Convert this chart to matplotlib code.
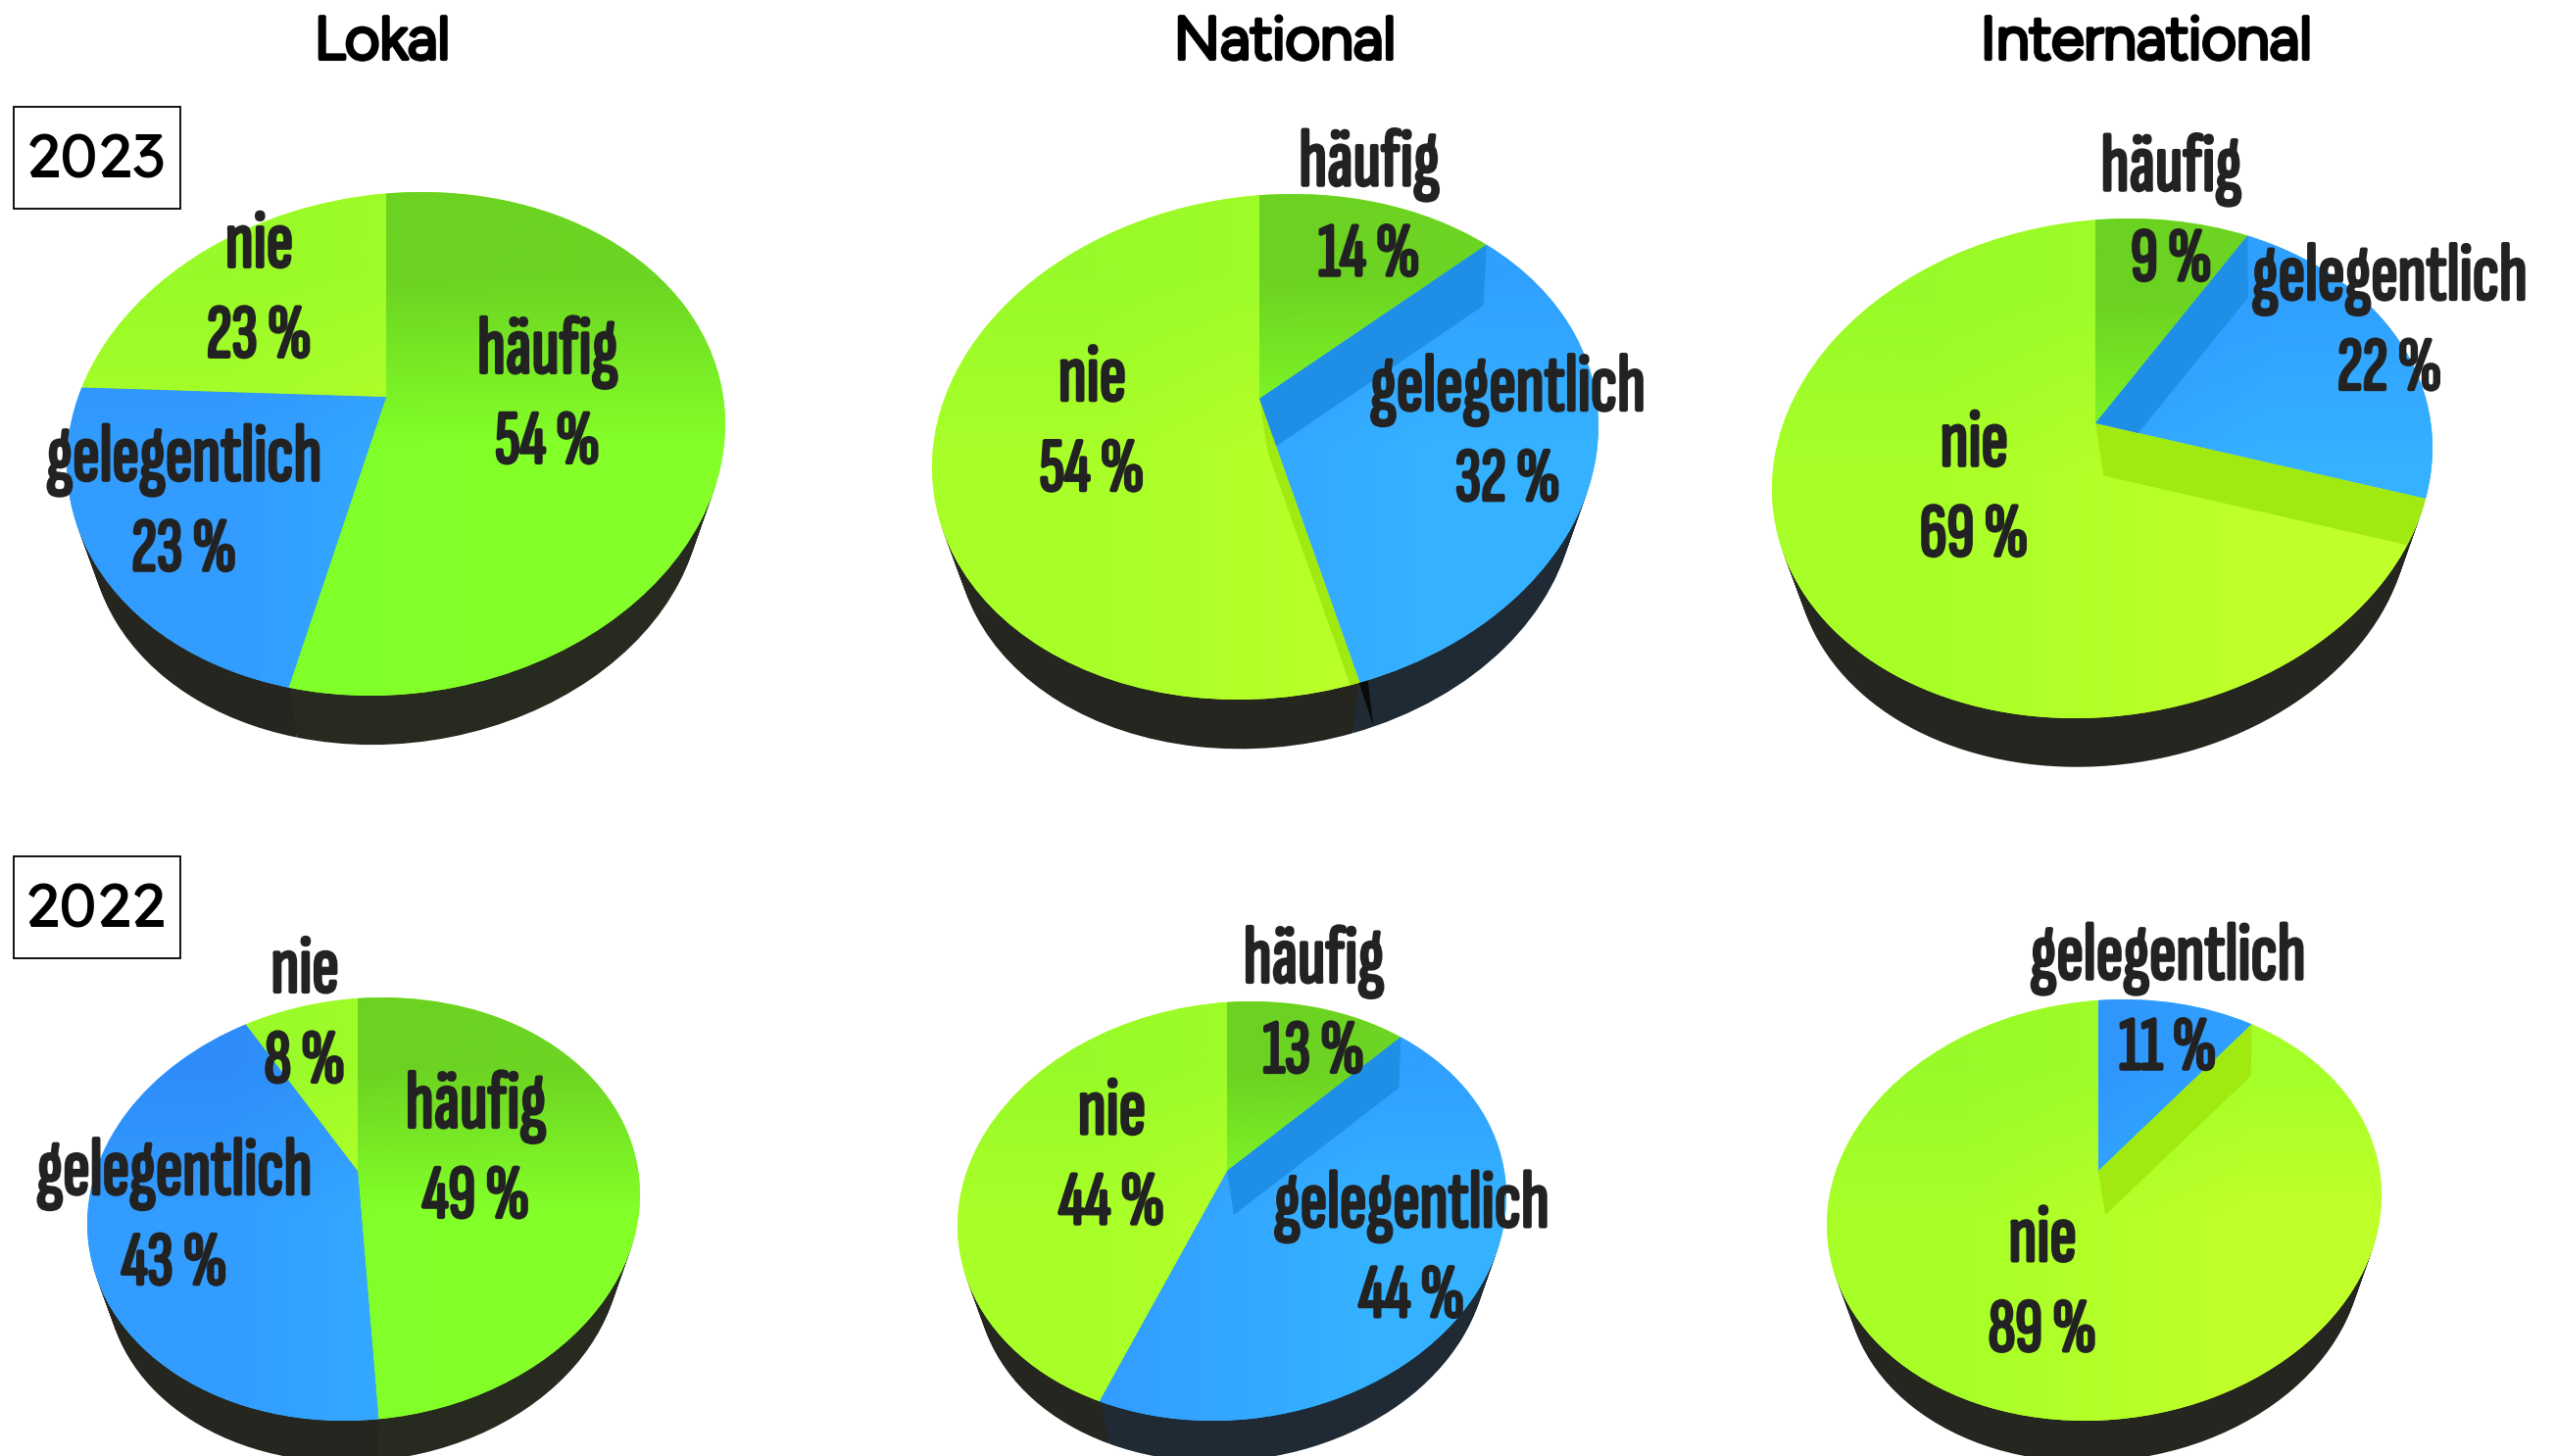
#!/usr/bin/env python3
"""Six tilted 3D-look pies: use of sources by reach, 2023 and 2022."""

import numpy as np
import matplotlib
matplotlib.use("Agg")
import matplotlib.pyplot as plt
import matplotlib.patheffects as pe
from matplotlib.colors import to_rgb
from matplotlib.patches import Polygon, Rectangle
from matplotlib.path import Path
from matplotlib.transforms import Transform

COLUMNS = ["Lokal", "National", "International"]
YEARS = ["2023", "2022"]
CATEGORIES = ["häufig", "gelegentlich", "nie"]

# order: 2023 lokal, national, international, 2022 lokal, national, international
HAEUFIG = [54, 14, 9, 49, 13, 0]
GELEGENTLICH = [23, 32, 22, 43, 44, 11]
NIE = [23, 54, 69, 8, 44, 89]

# ellipse of the top face in px: cx, cy, half width, half height, slant, apex x, apex y
DISCS = [
    (404, 453, 336, 257, -20, 394, 405),
    (1291, 456, 340, 258, -21, 1285, 407),
    (2145, 478, 337, 255, -21, 2138, 432),
    (371, 1234, 282, 216, -15, 365, 1195),
    (1257, 1236, 280, 214, -15, 1252, 1195),
    (2147, 1235, 283, 215, -15, 2141, 1195),
]

# label anchors in the 1568 px wide view: x, baseline of the percent line
LABEL_POS = [
    {"häufig": (336, 284), "gelegentlich": (113, 350), "nie": (159, 219)},
    {"häufig": (840, 169), "gelegentlich": (925, 307), "nie": (670, 301)},
    {"häufig": (1332, 172), "gelegentlich": (1466, 239), "nie": (1211, 341)},
    {"häufig": (292, 747), "gelegentlich": (107, 788), "nie": (187, 664)},
    {"häufig": (806, 658), "gelegentlich": (866, 808), "nie": (682, 751)},
    {"gelegentlich": (1330, 656), "nie": (1253, 829)},
]

# corners of the shading per category: top left, top right, bottom left, bottom right
SHADES = {
    "häufig": ["#6cd022", "#6cd422", "#80ff28", "#84ff29"],
    "gelegentlich": ["#2e8cfa", "#30a0ff", "#329cff", "#35b2ff"],
    "nie": ["#98fa28", "#a4ff28", "#a8ff28", "#c0ff2a"],
}
SIDE_LEFT = "#24261f"
SIDE_RIGHT = {"häufig": "#262a1f", "gelegentlich": "#1f2a35", "nie": "#262a1f"}
WALL_COLORS = {"häufig": "#66c41e", "gelegentlich": "#1e8ee6", "nie": "#a0ea12"}

TEXT_COLOR = "#222222"
VIEW_SCALE = 2608 / 1568
LABEL_FONT = ["Sofia Sans Extra Condensed", "Liberation Sans Narrow", "Liberation Sans"]
TITLE_FONT = ["Figtree", "Lato", "DejaVu Sans"]
YEAR_FONT = ["Lexend", "Lato", "DejaVu Sans"]


class Homography(Transform):
    """Projective map given by a 3x3 matrix."""
    input_dims = output_dims = 2
    is_separable = False
    has_inverse = False

    def __init__(self, matrix):
        super().__init__()
        self.matrix = matrix

    def transform_non_affine(self, values):
        pts = np.column_stack([values, np.ones(len(values))]) @ self.matrix.T
        return pts[:, :2] / pts[:, 2:]

    def transform_path_non_affine(self, path):
        return Path(self.transform_non_affine(path.vertices), path.codes)


def boost(p):
    """Projective map of the unit disc onto itself taking the centre to p."""
    n2 = p @ p
    g = 1 / np.sqrt(1 - n2)
    m = np.eye(3)
    m[:2, :2] += (g - 1) * np.outer(p, p) / n2
    m[:2, 2] = g * p
    m[2, :2] = g * p
    m[2, 2] = g
    return m


def disc_matrix(cx, cy, hw, hh, slant, ax_x, ax_y):
    """Unit circle to top face, centre to apex, 12 o'clock straight above the apex."""
    A = np.linalg.cholesky(np.array([[hw**2, slant * hw], [slant * hw, hh**2]]))
    A_inv = np.linalg.inv(A)
    p = A_inv @ np.array([ax_x - cx, ax_y - cy])
    d = A_inv @ np.array([0.0, -1.0])
    d /= np.linalg.norm(d)
    s = -p @ d + np.sqrt((p @ d) ** 2 - p @ p + 1)
    q = np.linalg.inv(boost(p)) @ np.append(p + s * d, 1)
    a = np.arctan2(q[1], q[0]) + np.pi / 2
    R = np.array([[np.cos(a), -np.sin(a), 0], [np.sin(a), np.cos(a), 0], [0, 0, 1]])
    flip = np.diag([1.0, -1.0, 1.0])
    E = np.eye(3)
    E[:2, :2] = A
    E[:2, 2] = [cx, cy]
    return E @ boost(p) @ R @ flip


def apply(m, x, y):
    v = m @ np.array([x, y, 1.0])
    return v[:2] / v[2]


def rim_point(m, angle):
    return apply(m, np.sin(np.radians(angle)), np.cos(np.radians(angle)))


fig = plt.figure(figsize=(26.08, 14.86), dpi=100)
ax = fig.add_axes([0, 0, 1, 1])
label_effect = [pe.withStroke(linewidth=2.4, foreground=TEXT_COLOR)]

for i, disc in enumerate(DISCS):
    cx, cy, hw, hh, slant, ax_x, ax_y = disc
    H = disc_matrix(*disc)
    cats = [c for c, v in zip(CATEGORIES, (HAEUFIG[i], GELEGENTLICH[i], NIE[i])) if v > 0]
    vals = [v for v in (HAEUFIG[i], GELEGENTLICH[i], NIE[i]) if v > 0]
    total = sum(vals)
    starts = 360 * np.cumsum([0] + vals[:-1]) / total
    mids = starts + 180 * np.array(vals) / total

    # side of the pie, stacked from the bottom face up; tinted only on the right
    side_colors = [SIDE_RIGHT[c] if m < 180 else SIDE_LEFT for c, m in zip(cats, mids)]
    for f in np.linspace(1, 0.05, 20):
        s = 1 - 0.07 * f
        d = 0.265 * hh * f
        shift = np.array([[s, 0, cx * (1 - s)], [0, s, cy * (1 - s) + d], [0, 0, 1]])
        wedges, _ = ax.pie(vals, startangle=90, counterclock=False, colors=side_colors)
        for w in wedges:
            w.set_transform(Homography(shift @ H) + ax.transData)

    # crease in the side where a slice edge runs towards the viewer
    for angle in starts:
        if 135 < angle < 175:
            rim = rim_point(H, angle)
            ax.add_patch(Polygon([rim - (2, 4), rim + (14, 0.175 * hh), rim + (8, -4)],
                                 closed=True, lw=0, fc="#0a0a08"))

    # top face
    wedges, _ = ax.pie(vals, startangle=90, counterclock=False,
                       colors=[SHADES[c][3] for c in cats])
    for w, c in zip(wedges, cats):
        w.set_transform(Homography(H) + ax.transData)
        rows = np.array([to_rgb(col) for col in SHADES[c]]).reshape(2, 2, 3)
        # the top shade has gone by mid height
        corners = np.vstack([rows, rows[1:]])
        im = ax.imshow(corners, extent=(cx - hw, cx + hw, cy + hh, cy - hh), origin="upper",
                       interpolation="bilinear", aspect="auto", zorder=w.get_zorder())
        im.set_clip_path(w)

    # inner walls, seen where the next slice lies below its edge
    apex = apply(H, 0, 0)
    for j, w in enumerate(wedges):
        if not 0 < starts[j] < 175:
            continue
        rim = rim_point(H, starts[j])
        depth = np.array([0.025 * hw, 0.21 * hh])
        rim_low = rim + depth - 0.05 * (rim - apex)
        wall = Polygon([apex, rim, rim_low, apex + depth], closed=True, lw=0,
                       fc=WALL_COLORS[cats[j]], zorder=w.get_zorder() + 0.5)
        ax.add_patch(wall)
        wall.set_clip_path(w)

    # labels
    for c, v in zip(cats, vals):
        x, y = LABEL_POS[i][c]
        x, y = x * VIEW_SCALE, y * VIEW_SCALE
        for text, yy, size in ((f"{v} %", y, 56), (c, y - 92, 60)):
            ax.text(x, yy, text, ha="center", va="baseline", fontsize=size, family=LABEL_FONT,
                    fontweight="bold", color=TEXT_COLOR, zorder=10, path_effects=label_effect)

ax.set_aspect("auto")
ax.set_xlim(0, 2608)
ax.set_ylim(1486, 0)
ax.axis("off")

title_effect = [pe.withStroke(linewidth=3, foreground="black")]
for name, x in zip(COLUMNS, (390, 1311, 2190)):
    ax.text(x, 60, name, ha="center", va="baseline", fontsize=44, family=TITLE_FONT,
            color="black", path_effects=title_effect)

for year, top in zip(YEARS, (109, 874)):
    ax.add_patch(Rectangle((14, top), 170, 104, fc="white", ec="black", lw=1.3, zorder=11))
    ax.text(98, top + 49, year, ha="center", va="center_baseline", fontsize=46, family=YEAR_FONT,
            fontweight=500, color="black", zorder=12)

fig.savefig("out.png", dpi=100)
